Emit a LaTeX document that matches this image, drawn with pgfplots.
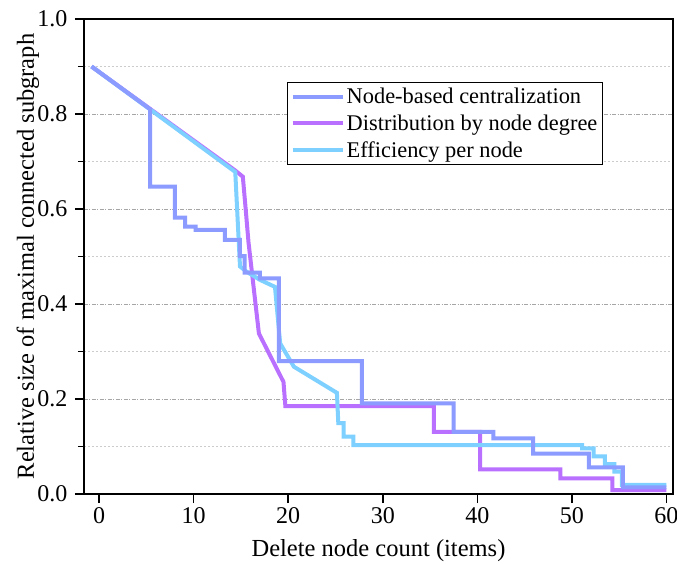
\documentclass[border=0pt]{standalone}
\usepackage{fontspec}
\setmainfont{Liberation Serif}
\usepackage{pgfplots}
\pgfplotsset{compat=1.18}

\definecolor{cblue}{RGB}{140,155,255}
\definecolor{cpurp}{RGB}{186,112,255}
\definecolor{ccyan}{RGB}{125,208,255}

\begin{document}
\begin{tikzpicture}
\path[use as bounding box] (-84pt,-69pt) rectangle (593pt,494pt);
\begin{axis}[
  at={(0pt,0pt)}, anchor=south west,
  width=589pt, height=475pt, scale only axis,
  xmin=-1.6, xmax=60.7, ymin=0, ymax=1,
  xtick={0,10,20,30,40,50,60},
  ytick={0,0.2,0.4,0.6,0.8,1},
  minor ytick={0.1,0.3,0.5,0.7,0.9},
  tick pos=left, tick align=outside,
  major tick length=9pt, minor tick length=6pt,
  every tick/.style={black, line width=1.5pt},
  axis line style={black, line width=1.5pt},
  ymajorgrids, yminorgrids,
  major grid style={gray!70, line width=0.8pt, dash pattern=on 4pt off 1.5pt on 1pt off 1.5pt},
  minor grid style={gray!40, line width=0.8pt, dash pattern=on 2pt off 2pt},
  /pgf/number format/assume math mode=true,
  yticklabel style={xshift=-4pt, /pgf/number format/.cd, fixed, fixed zerofill, precision=1},
  tick label style={font=\fontsize{24}{26}\selectfont},
  xticklabel style={yshift=-1pt},
  xlabel={Delete node count (items)},
  ylabel={Relative size of maximal connected subgraph},
  every axis x label/.style={at={([yshift=-57pt]rel axis cs:0.5,0)}, anchor=center,
    font=\fontsize{24.5}{28}\selectfont},
  every axis y label/.style={at={([xshift=-56pt]rel axis cs:0,0.5)}, rotate=90, anchor=center,
    font=\fontsize{24.5}{28}\selectfont},
  legend image code/.code={\draw[#1] (0pt,0pt) -- (50pt,0pt);},
  legend cell align=left,
  legend style={at={(0.345,0.868)}, anchor=north west, draw=black, line width=1pt,
    font=\fontsize{22.4}{26}\selectfont, row sep=7.5pt,
    inner xsep=3pt, inner ysep=5pt, nodes={inner xsep=2pt, inner ysep=1pt}},
]
\addlegendimage{cblue, line width=4pt}
\addlegendentry{Node-based centralization}
\addlegendimage{cpurp, line width=4pt}
\addlegendentry{Distribution by node degree}
\addlegendimage{ccyan, line width=4pt}
\addlegendentry{Efficiency per node}

% Distribution by node degree
\addplot[cpurp, line width=4pt, forget plot] coordinates {
(-0.8,0.900)(14.4,0.681)(15.2,0.668)(15.5,0.600)(15.8,0.530)(16.2,0.460)
(16.9,0.338)(19.5,0.236)(19.7,0.185)(35.4,0.185)(35.4,0.131)(40.3,0.131)
(40.3,0.052)(48.8,0.052)(48.8,0.033)(54.3,0.033)(54.3,0.008)(60,0.008)};

% Efficiency per node
\addplot[ccyan, line width=4pt, forget plot] coordinates {
(-0.8,0.900)(14.4,0.678)(14.9,0.479)(15.6,0.468)(17.0,0.451)(18.6,0.436)
(19.15,0.317)(20.6,0.268)(25.15,0.213)(25.3,0.149)(25.85,0.149)(25.85,0.121)
(26.9,0.121)(26.9,0.103)(51.1,0.103)(51.1,0.096)(52.3,0.096)(52.3,0.079)
(53.5,0.079)(53.5,0.063)(54.5,0.063)(54.5,0.047)(55.3,0.047)(55.3,0.019)
(60,0.019)};

% Node-based centralization
\addplot[cblue, line width=4pt, forget plot] coordinates {
(-0.8,0.900)(5.4,0.810)(5.4,0.647)(8.0,0.647)(8.0,0.582)(9.1,0.582)
(9.1,0.563)(10.2,0.563)(10.2,0.556)(13.3,0.556)(13.3,0.535)(14.9,0.535)
(14.9,0.501)(15.4,0.501)(15.4,0.466)(17.0,0.466)(17.0,0.454)(19.0,0.454)
(19.0,0.280)(27.8,0.280)(27.8,0.191)(37.5,0.191)(37.5,0.131)(41.7,0.131)
(41.7,0.117)(45.9,0.117)(45.9,0.085)(51.8,0.085)(51.8,0.056)(55.4,0.056)
(55.4,0.014)(60,0.014)};
\end{axis}
\end{tikzpicture}
\end{document}
